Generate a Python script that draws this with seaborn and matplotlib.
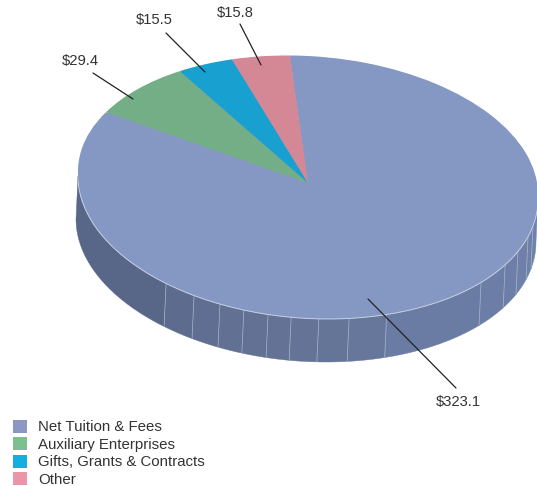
import numpy as np
import matplotlib
matplotlib.use("Agg")
import matplotlib.pyplot as plt
from matplotlib.patches import Patch
from matplotlib.transforms import Affine2D
import seaborn as sns

categories = ["Net Tuition & Fees", "Auxiliary Enterprises", "Gifts, Grants & Contracts", "Other"]
values = [323.1, 29.4, 15.5, 15.8]
value_labels = ["$323.1", "$29.4", "$15.5", "$15.8"]

slice_colors = ["#8598c3", "#73ae87", "#18a0d0", "#d48896"]
legend_colors = ["#8e97c4", "#7dc08f", "#14aee0", "#eb96a8"]

# facet edges of the rim, degrees, and the shade of each facet
rim_edges = [180, 231.9, 240.3, 247.5, 253.8, 260, 265.8, 272.7, 280.3, 290, 318.8, 329, 335.9, 343.1, 348, 360]
rim_colors = ["#586788", "#5d6c8e", "#5f6e91", "#617093", "#627194", "#637295", "#647396", "#657598",
              "#67779c", "#6a7ca4", "#6c7ea6", "#6d7fa8", "#6e80a9", "#6e81aa", "#6f82ab"]

# label text position and leader line, in pixels of the picture
label_pos = [(458, 402), (80, 61), (154, 20), (235, 13)]
leader_from = [(456, 388), (93, 73), (166, 33), (240, 24)]
leader_to = [(368, 299), (133, 99), (205, 72), (261, 65)]

W, H = 537, 486
CX, CY, RX, RY = 308, 187.5, 230, 131
APEX_Y, APEX_RY = 183, 127
TILT = 0.05
DX, DY = -2, 43

sns.set_theme(style="white")
plt.rcParams["font.family"] = ["Liberation Sans", "DejaVu Sans"]

fig = plt.figure(figsize=(W / 100, H / 100), dpi=100, facecolor="white")
ax = fig.add_axes([0, 0, 1, 1], facecolor="none")
ax.set_axis_off()


def tilted(cy, ry):
    return Affine2D.from_values(RX, TILT * RX, 0, -ry, CX, cy)


def rim_point(deg):
    t = np.radians(deg)
    return CX + RX * np.cos(t), CY + TILT * RX * np.cos(t) - RY * np.sin(t)


# rim facets
for i, col in enumerate(rim_colors):
    xt, yt = rim_point(np.linspace(rim_edges[i], rim_edges[i + 1], 40))
    ax.fill(np.r_[xt, xt[::-1] + DX], np.r_[yt, yt[::-1] + DY], color=col, lw=0.3, zorder=1)
for e in rim_edges[1:-1]:
    x0, y0 = rim_point(e)
    ax.plot([x0, x0 + DX], [y0, y0 + DY], color="#a9b3c9", lw=0.5, zorder=2)

# full top ellipse, then the slices on the slightly shifted apex
wedges, _ = ax.pie(values, colors=[slice_colors[0]] * 4, startangle=94.5, counterclock=False,
                   wedgeprops={"linewidth": 0, "zorder": 3})
for w in wedges:
    w.set_transform(tilted(CY, RY) + ax.transData)
xt, yt = rim_point(np.linspace(180, 360, 200))
ax.plot(xt, yt, color="#c6cfe2", lw=0.7, zorder=4)

wedges, _ = ax.pie(values, colors=slice_colors, startangle=94.5, counterclock=False,
                   wedgeprops={"linewidth": 0, "zorder": 5})
for w in wedges:
    w.set_transform(tilted(APEX_Y, APEX_RY) + ax.transData)

ax.set_aspect("auto")
ax.set_xlim(0, W)
ax.set_ylim(H, 0)

for lab, p, a, b in zip(value_labels, label_pos, leader_from, leader_to):
    ax.text(p[0], p[1], lab, ha="center", va="center", fontsize=10.6, color="#333333", zorder=7)
    ax.plot([a[0], b[0]], [a[1], b[1]], color="#222222", lw=0.9, zorder=6)

handles = [Patch(facecolor=c, edgecolor="none") for c in legend_colors]
fig.legend(handles, categories, loc="lower left", bbox_to_anchor=(13 / W, -1 / H), frameon=False,
           fontsize=10.8, labelcolor="#333333", handlelength=0.93, handleheight=0.93,
           handletextpad=0.75, labelspacing=0.2, borderpad=0, borderaxespad=0)

fig.savefig("out.png", dpi=100, facecolor="white")
